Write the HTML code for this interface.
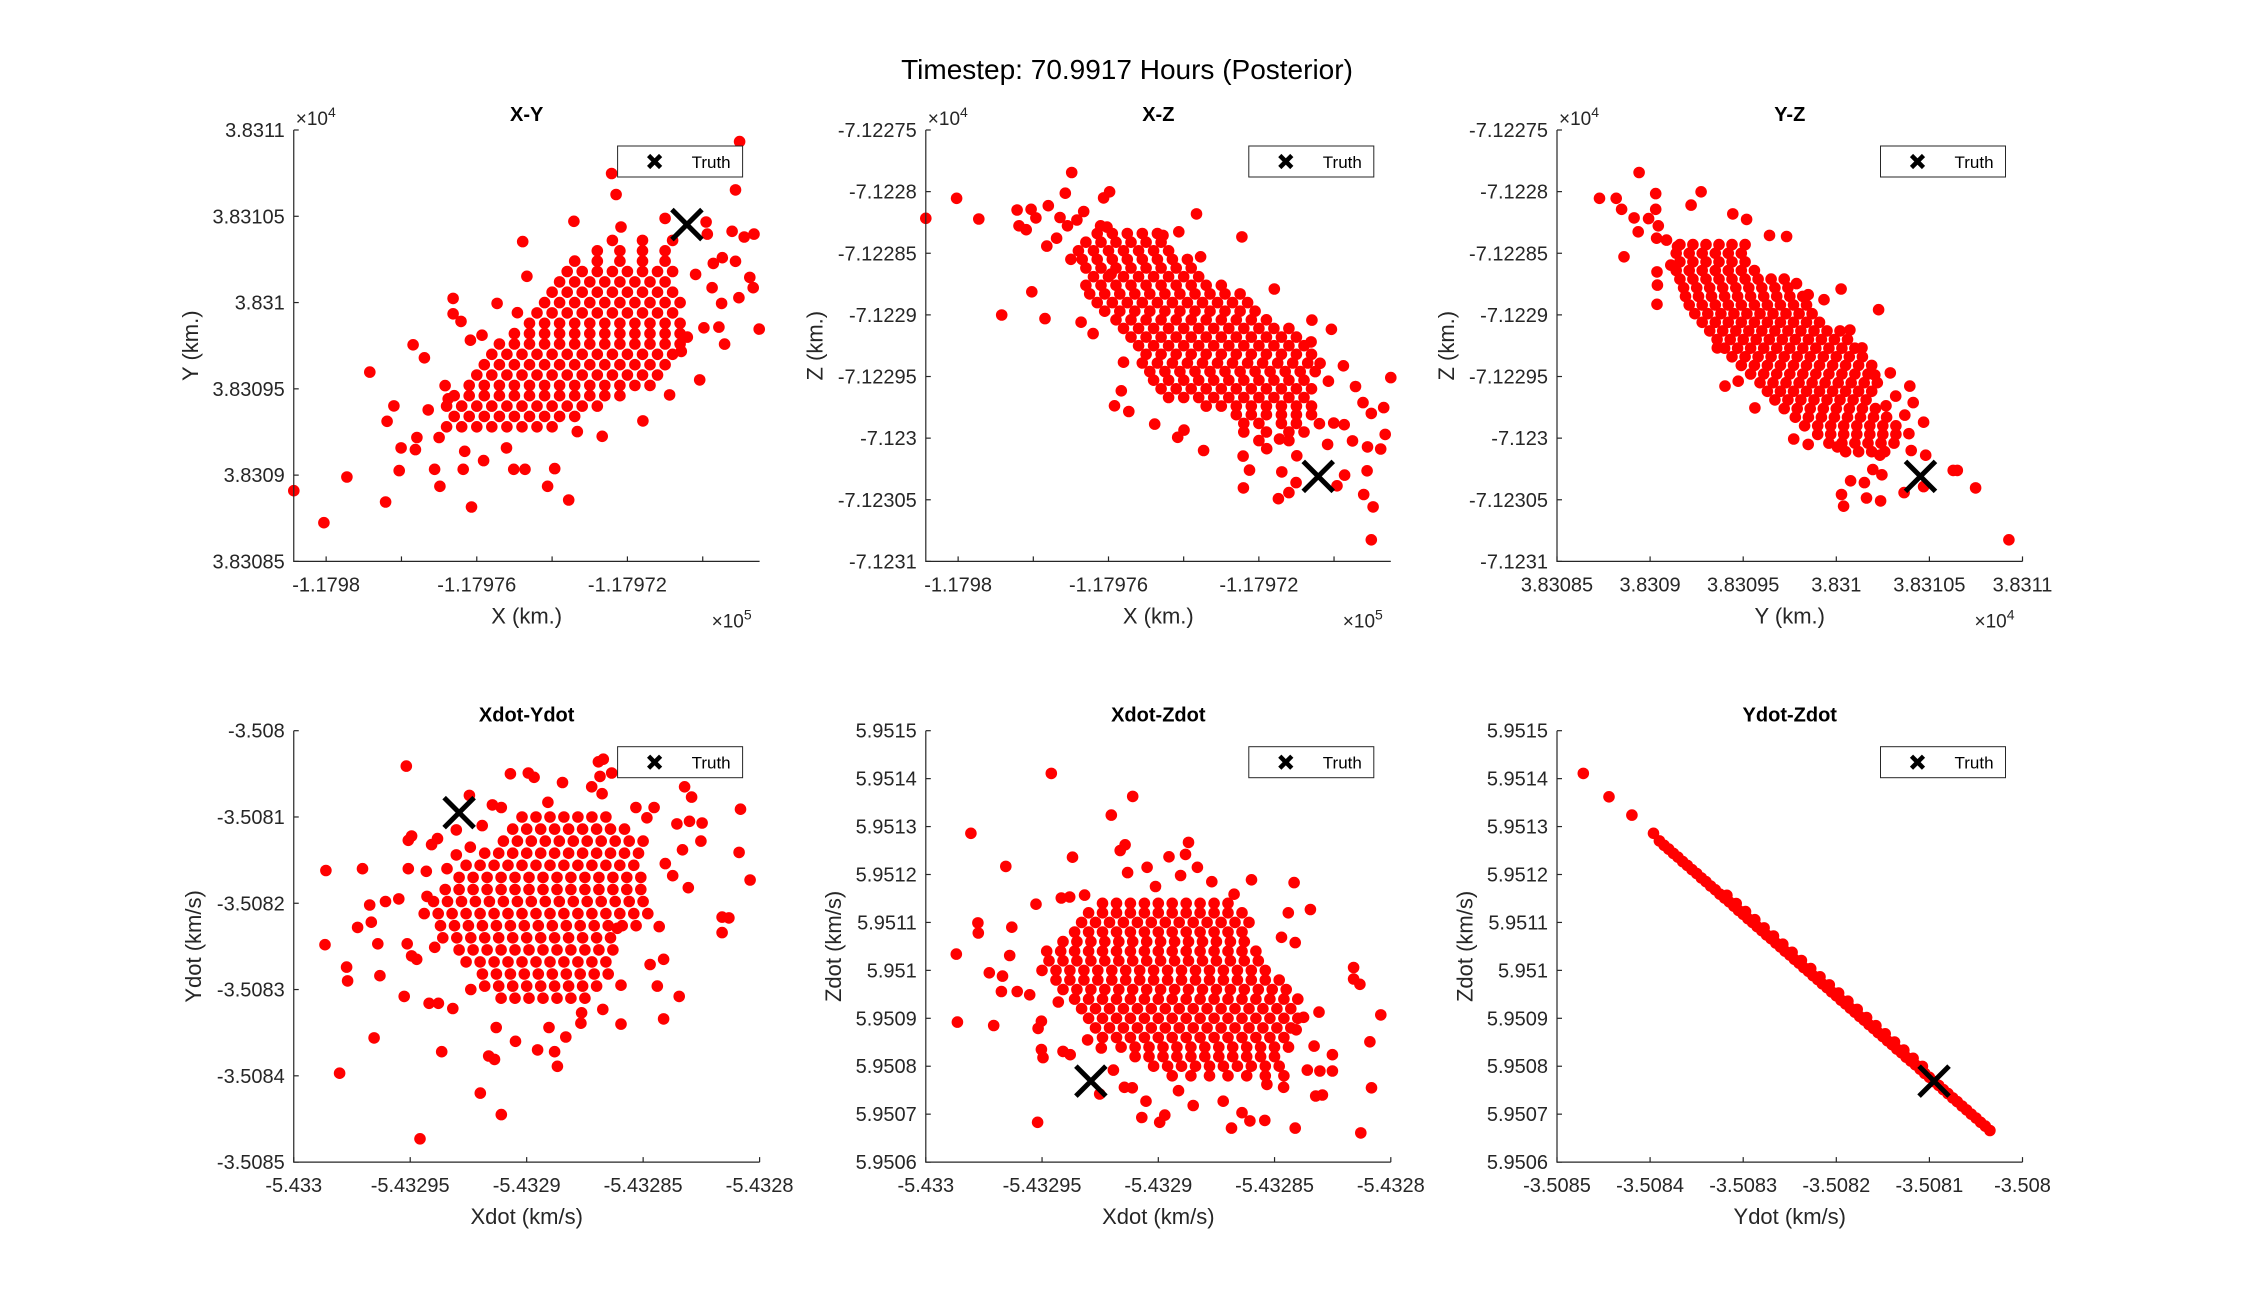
<!DOCTYPE html>
<html><head><meta charset="utf-8"><title>Timestep: 70.9917 Hours (Posterior)</title>
<style>
html,body{margin:0;padding:0;background:#fff;}
svg{display:block;font-family:"Liberation Sans",Arial,sans-serif;}
</style></head>
<body>
<svg id="fig" width="2250" height="1302" viewBox="0 0 2250 1302" xmlns="http://www.w3.org/2000/svg">
<rect x="0" y="0" width="2250" height="1302" fill="#fff"/>
<text x="1127" y="79" font-size="28" text-anchor="middle" fill="#000">Timestep: 70.9917 Hours (Posterior)</text>
</svg>
<script>
// ---------- truth ----------
const truthX = -117970.42, truthY = 38310.452, truthZ = -71230.31;
const truthXd = -5.432929, truthYd = -3.508095, truthZd = 5.950769;

// ---------- tick arrays ----------
const posXTicks = [-117980,-117978,-117976,-117974,-117972,-117970];
const posXTickLabels = ['-1.1798','','-1.17976','','-1.17972',''];
const posYTicks = [38308.5,38309,38309.5,38310,38310.5,38311];
const posYTickLabels = ['3.83085','3.8309','3.83095','3.831','3.83105','3.8311'];
const posZTicks = [-71231,-71230.5,-71230,-71229.5,-71229,-71228.5,-71228,-71227.5];
const posZTickLabels = ['-7.1231','-7.12305','-7.123','-7.12295','-7.1229','-7.12285','-7.1228','-7.12275'];
const velXTicks = [-5.433,-5.43295,-5.4329,-5.43285,-5.4328];
const velXTickLabels = ['-5.433','-5.43295','-5.4329','-5.43285','-5.4328'];
const velYTicks = [-3.5085,-3.5084,-3.5083,-3.5082,-3.5081,-3.508];
const velYTickLabels = ['-3.5085','-3.5084','-3.5083','-3.5082','-3.5081','-3.508'];
const velZTicks = [5.9506,5.9507,5.9508,5.9509,5.951,5.9511,5.9512,5.9513,5.9514,5.9515];
const velZTickLabels = ['5.9506','5.9507','5.9508','5.9509','5.951','5.9511','5.9512','5.9513','5.9514','5.9515'];

// ---------- X-Y particles ----------
const xyOutliers = [[-117980.86,38308.910],[-117980.06,38308.724],[-117979.45,38308.989],[-117978.84,38309.597],[-117978.42,38308.844],[-117978.38,38309.312],[-117978.20,38309.401],[-117978.06,38309.026],[-117978.01,38309.158],[-117977.69,38309.755],[-117977.63,38309.148],[-117977.59,38309.218],[-117977.39,38309.680],[-117977.29,38309.378],[-117977.12,38309.034],[-117976.98,38308.935],[-117977.00,38309.218],[-117976.84,38309.519],[-117976.76,38309.442],[-117976.63,38310.024],[-117976.63,38309.935],[-117976.42,38309.891],[-117976.36,38309.034],[-117976.32,38309.138],[-117976.17,38309.782],[-117976.14,38308.815],[-117975.86,38309.811],[-117975.82,38309.084],[-117975.46,38309.995],[-117975.21,38309.158],[-117975.02,38309.034],[-117974.92,38309.941],[-117974.78,38310.353],[-117974.72,38309.034],[-117974.67,38310.152],[-117974.12,38308.935],[-117973.93,38309.038],[-117973.56,38308.856],[-117973.42,38310.471],[-117973.33,38309.252],[-117972.67,38309.225],[-117972.42,38310.748],[-117972.30,38310.626],[-117972.17,38310.438],[-117971.59,38309.314],[-117970.88,38309.465],[-117971.00,38310.488],[-117970.08,38309.552],[-117969.88,38310.397],[-117969.75,38310.086],[-117969.50,38309.995],[-117969.42,38309.759],[-117969.57,38309.858],[-117969.13,38310.653],[-117969.02,38310.933],[-117969.22,38310.413],[-117968.90,38310.380],[-117968.64,38310.397],[-117968.66,38310.086],[-117968.50,38309.846],[-117969.13,38310.239],[-117969.48,38310.260],[-117969.72,38310.227],[-117969.04,38310.028],[-117968.75,38310.146],[-117969.97,38309.854],[-117970.19,38310.163],[-117969.91,38310.467],[-117970.41,38309.800],[-117970.57,38309.717]];
const xyCoreY = [38309.28,38309.34,38309.40,38309.46,38309.52,38309.58,38309.64,38309.70,38309.76,38309.82,38309.88,38309.94,38310.00,38310.06,38310.12,38310.18,38310.24,38310.30,38310.36];
const xyCoreX = [
[-117976.8,-117976.4,-117976.0,-117975.6,-117975.2,-117974.8,-117974.4,-117974.0],
[-117976.6,-117976.2,-117975.8,-117975.4,-117975.0,-117974.6,-117974.2,-117973.8,-117973.4],
[-117976.8,-117976.4,-117976.0,-117975.6,-117975.2,-117974.8,-117974.4,-117974.0,-117973.6,-117973.2,-117972.8],
[-117976.6,-117976.2,-117975.8,-117975.4,-117975.0,-117974.6,-117974.2,-117973.8,-117973.4,-117973.0,-117972.6,-117972.2],
[-117976.2,-117975.8,-117975.4,-117975.0,-117974.6,-117974.2,-117973.8,-117973.4,-117973.0,-117972.6,-117972.2,-117971.8,-117971.4],
[-117976.0,-117975.6,-117975.2,-117974.8,-117974.4,-117974.0,-117973.6,-117973.2,-117972.8,-117972.4,-117972.0,-117971.6,-117971.2],
[-117975.8,-117975.4,-117975.0,-117974.6,-117974.2,-117973.8,-117973.4,-117973.0,-117972.6,-117972.2,-117971.8,-117971.4,-117971.0],
[-117975.6,-117975.2,-117974.8,-117974.4,-117974.0,-117973.6,-117973.2,-117972.8,-117972.4,-117972.0,-117971.6,-117971.2,-117970.8],
[-117975.4,-117975.0,-117974.6,-117974.2,-117973.8,-117973.4,-117973.0,-117972.6,-117972.2,-117971.8,-117971.4,-117971.0,-117970.6],
[-117975.0,-117974.6,-117974.2,-117973.8,-117973.4,-117973.0,-117972.6,-117972.2,-117971.8,-117971.4,-117971.0,-117970.6],
[-117974.6,-117974.2,-117973.8,-117973.4,-117973.0,-117972.6,-117972.2,-117971.8,-117971.4,-117971.0,-117970.6],
[-117974.4,-117974.0,-117973.6,-117973.2,-117972.8,-117972.4,-117972.0,-117971.6,-117971.2,-117970.8],
[-117974.2,-117973.8,-117973.4,-117973.0,-117972.6,-117972.2,-117971.8,-117971.4,-117971.0,-117970.6],
[-117974.0,-117973.6,-117973.2,-117972.8,-117972.4,-117972.0,-117971.6,-117971.2,-117970.8],
[-117973.8,-117973.4,-117973.0,-117972.6,-117972.2,-117971.8,-117971.4,-117971.0],
[-117973.6,-117973.2,-117972.8,-117972.4,-117972.0,-117971.6,-117971.2,-117970.8],
[-117973.4,-117972.8,-117972.2,-117971.6,-117971.0],
[-117972.8,-117972.2,-117971.6,-117971.0],
[-117972.4,-117971.6,-117970.8]];

// ---------- X-Z particles ----------
const xzOutliers = [[-117980.86,-71228.216],[-117980.04,-71228.054],[-117979.45,-71228.222],[-117978.84,-71229.001],[-117978.43,-71228.149],[-117978.38,-71228.277],[-117978.19,-71228.309],[-117978.06,-71228.143],[-117977.93,-71228.213],[-117978.04,-71228.813],[-117977.69,-71229.030],[-117977.64,-71228.442],[-117977.60,-71228.114],[-117977.38,-71228.378],[-117977.29,-71228.210],[-117977.15,-71228.013],[-117976.98,-71227.845],[-117977.00,-71228.549],[-117977.09,-71228.277],[-117976.84,-71228.230],[-117976.73,-71229.059],[-117976.66,-71228.161],[-117976.41,-71229.152],[-117976.13,-71228.051],[-117975.97,-71228.001],[-117976.21,-71228.277],[-117976.04,-71228.288],[-117975.93,-71228.668],[-117975.84,-71229.738],[-117975.66,-71229.616],[-117975.60,-71229.384],[-117975.46,-71229.784],[-117974.77,-71229.886],[-117974.55,-71228.355],[-117974.13,-71228.326],[-117973.66,-71228.181],[-117973.55,-71228.529],[-117974.16,-71229.993],[-117973.99,-71229.935],[-117973.47,-71230.100],[-117972.45,-71228.367],[-117972.42,-71230.146],[-117972.25,-71230.259],[-117972.41,-71230.404],[-117971.79,-71230.086],[-117971.59,-71228.790],[-117971.48,-71230.491],[-117971.39,-71230.274],[-117971.20,-71230.442],[-117971.01,-71230.361],[-117970.99,-71230.143],[-117970.59,-71229.042],[-117970.61,-71229.219],[-117970.39,-71229.883],[-117970.37,-71229.393],[-117970.07,-71229.117],[-117970.15,-71229.538],[-117970.01,-71229.877],[-117969.92,-71230.387],[-117969.72,-71230.300],[-117969.75,-71229.413],[-117969.73,-71229.891],[-117969.43,-71229.581],[-117969.23,-71229.712],[-117969.51,-71230.022],[-117969.11,-71230.071],[-117969.12,-71230.265],[-117969.01,-71229.799],[-117968.68,-71229.752],[-117968.64,-71229.970],[-117968.76,-71230.088],[-117968.49,-71229.509],[-117969.21,-71230.457],[-117968.96,-71230.558],[-117969.01,-71230.825],[-117971.45,-71230.007],[-117970.17,-71230.051]];
const xzCoreZ = [-71228.34,-71228.41,-71228.48,-71228.55,-71228.62,-71228.69,-71228.76,-71228.83,-71228.90,-71228.97,-71229.04,-71229.11,-71229.18,-71229.25,-71229.32,-71229.39,-71229.46,-71229.53,-71229.60,-71229.67,-71229.74,-71229.81,-71229.88,-71229.95,-71230.02];
const xzCoreX = [
[-117976.3,-117975.9,-117975.5,-117975.1,-117974.7],
[-117976.6,-117976.2,-117975.8,-117975.4,-117975.0,-117974.6],
[-117976.8,-117976.4,-117976.0,-117975.6,-117975.2,-117974.8,-117974.4],
[-117976.7,-117976.3,-117975.9,-117975.5,-117975.1,-117974.7,-117974.3,-117973.9],
[-117976.6,-117976.2,-117975.8,-117975.4,-117975.0,-117974.6,-117974.2,-117973.8],
[-117976.4,-117976.0,-117975.6,-117975.2,-117974.8,-117974.4,-117974.0,-117973.6],
[-117976.6,-117976.2,-117975.8,-117975.4,-117975.0,-117974.6,-117974.2,-117973.8,-117973.4,-117973.0],
[-117976.5,-117976.1,-117975.7,-117975.3,-117974.9,-117974.5,-117974.1,-117973.7,-117973.3,-117972.9,-117972.5],
[-117976.3,-117975.9,-117975.5,-117975.1,-117974.7,-117974.3,-117973.9,-117973.5,-117973.1,-117972.7,-117972.3],
[-117976.1,-117975.7,-117975.3,-117974.9,-117974.5,-117974.1,-117973.7,-117973.3,-117972.9,-117972.5,-117972.1],
[-117975.8,-117975.4,-117975.0,-117974.6,-117974.2,-117973.8,-117973.4,-117973.0,-117972.6,-117972.2,-117971.8],
[-117975.6,-117975.2,-117974.8,-117974.4,-117974.0,-117973.6,-117973.2,-117972.8,-117972.4,-117972.0,-117971.6,-117971.2],
[-117975.4,-117975.0,-117974.6,-117974.2,-117973.8,-117973.4,-117973.0,-117972.6,-117972.2,-117971.8,-117971.4,-117971.0],
[-117975.2,-117974.8,-117974.4,-117974.0,-117973.6,-117973.2,-117972.8,-117972.4,-117972.0,-117971.6,-117971.2,-117970.8],
[-117975.0,-117974.6,-117974.2,-117973.8,-117973.4,-117973.0,-117972.6,-117972.2,-117971.8,-117971.4,-117971.0,-117970.6],
[-117975.1,-117974.7,-117974.3,-117973.9,-117973.5,-117973.1,-117972.7,-117972.3,-117971.9,-117971.5,-117971.1,-117970.7],
[-117974.9,-117974.5,-117974.1,-117973.7,-117973.3,-117972.9,-117972.5,-117972.1,-117971.7,-117971.3,-117970.9,-117970.5],
[-117974.8,-117974.4,-117974.0,-117973.6,-117973.2,-117972.8,-117972.4,-117972.0,-117971.6,-117971.2,-117970.8],
[-117974.6,-117974.2,-117973.8,-117973.4,-117973.0,-117972.6,-117972.2,-117971.8,-117971.4,-117971.0,-117970.6],
[-117974.4,-117974.0,-117973.6,-117973.2,-117972.8,-117972.4,-117972.0,-117971.6,-117971.2,-117970.8],
[-117973.4,-117973.0,-117972.6,-117972.2,-117971.8,-117971.4,-117971.0,-117970.6],
[-117972.6,-117972.2,-117971.8,-117971.4,-117971.0,-117970.6],
[-117972.4,-117972.0,-117971.4,-117971.0],
[-117972.4,-117971.8,-117971.2,-117970.8],
[-117972.0,-117971.2]];

// ---------- Y-Z particles ----------
const yzOutliers = [[38308.728,-71228.054],[38308.818,-71228.054],[38308.847,-71228.143],[38308.914,-71228.213],[38308.936,-71228.326],[38308.941,-71227.845],[38308.860,-71228.529],[38308.992,-71228.219],[38309.030,-71228.016],[38309.030,-71228.143],[38309.044,-71228.277],[38309.035,-71228.378],[38309.037,-71228.651],[38309.039,-71228.758],[38309.037,-71228.914],[38309.088,-71228.393],[38309.111,-71228.596],[38309.147,-71228.445],[38309.274,-71228.001],[38309.220,-71228.109],[38309.444,-71228.181],[38309.518,-71228.225],[38309.641,-71228.355],[38309.733,-71228.364],[38310.026,-71228.790],[38310.227,-71228.958],[38309.934,-71228.877],[38309.849,-71228.836],[38309.786,-71228.746],[38309.361,-71229.268],[38309.402,-71229.578],[38309.473,-71229.538],[38309.563,-71229.755],[38309.771,-71230.007],[38309.849,-71230.051],[38310.006,-71230.071],[38310.028,-71230.457],[38310.039,-71230.552],[38310.077,-71230.346],[38310.151,-71230.361],[38310.162,-71230.486],[38310.238,-71230.509],[38310.196,-71230.254],[38310.245,-71230.297],[38310.234,-71230.138],[38310.364,-71230.442],[38310.402,-71230.100],[38310.480,-71230.138],[38310.469,-71230.393],[38310.628,-71230.262],[38310.650,-71230.262],[38310.748,-71230.404],[38310.927,-71230.825],[38310.395,-71229.578],[38310.413,-71229.712],[38310.319,-71229.659],[38310.267,-71229.738],[38310.469,-71229.871],[38310.368,-71229.813],[38310.390,-71229.964],[38310.290,-71229.471],[38310.207,-71229.488],[38310.138,-71229.268],[38310.073,-71229.123]];
const yzCoreZ = [-71228.43,-71228.50,-71228.57,-71228.64,-71228.71,-71228.78,-71228.85,-71228.92,-71228.99,-71229.06,-71229.13,-71229.20,-71229.27,-71229.34,-71229.41,-71229.48,-71229.55,-71229.62,-71229.69,-71229.76,-71229.83,-71229.90,-71229.97,-71230.04,-71230.11];
const yzCoreY = [
[38309.16,38309.23,38309.30,38309.37,38309.44,38309.51],
[38309.14,38309.21,38309.28,38309.35,38309.42,38309.49],
[38309.16,38309.23,38309.30,38309.37,38309.44,38309.51],
[38309.14,38309.21,38309.28,38309.35,38309.42,38309.49,38309.56],
[38309.16,38309.23,38309.30,38309.37,38309.44,38309.51,38309.58,38309.65,38309.72],
[38309.18,38309.25,38309.32,38309.39,38309.46,38309.53,38309.60,38309.67,38309.74],
[38309.19,38309.26,38309.33,38309.40,38309.47,38309.54,38309.61,38309.68,38309.75,38309.82],
[38309.21,38309.28,38309.35,38309.42,38309.49,38309.56,38309.63,38309.70,38309.77,38309.84],
[38309.24,38309.31,38309.38,38309.45,38309.52,38309.59,38309.66,38309.73,38309.80,38309.87],
[38309.28,38309.35,38309.42,38309.49,38309.56,38309.63,38309.70,38309.77,38309.84,38309.91],
[38309.32,38309.39,38309.46,38309.53,38309.60,38309.67,38309.74,38309.81,38309.88,38309.95,38310.02],
[38309.36,38309.43,38309.50,38309.57,38309.64,38309.71,38309.78,38309.85,38309.92,38309.99,38310.06],
[38309.40,38309.47,38309.54,38309.61,38309.68,38309.75,38309.82,38309.89,38309.96,38310.03,38310.10],
[38309.44,38309.51,38309.58,38309.65,38309.72,38309.79,38309.86,38309.93,38310.00,38310.07,38310.14],
[38309.49,38309.56,38309.63,38309.70,38309.77,38309.84,38309.91,38309.98,38310.05,38310.12,38310.19],
[38309.54,38309.61,38309.68,38309.75,38309.82,38309.89,38309.96,38310.03,38310.10,38310.17],
[38309.59,38309.66,38309.73,38309.80,38309.87,38309.94,38310.01,38310.08,38310.15,38310.22],
[38309.63,38309.70,38309.77,38309.84,38309.91,38309.98,38310.05,38310.12,38310.19],
[38309.67,38309.74,38309.81,38309.88,38309.95,38310.02,38310.09,38310.16],
[38309.72,38309.79,38309.86,38309.93,38310.00,38310.07,38310.14,38310.21],
[38309.78,38309.85,38309.92,38309.99,38310.06,38310.13,38310.20,38310.27],
[38309.83,38309.90,38309.97,38310.04,38310.11,38310.18,38310.25,38310.32],
[38309.90,38309.97,38310.04,38310.11,38310.18,38310.25,38310.32],
[38309.96,38310.03,38310.10,38310.17,38310.24,38310.31],
[38310.05,38310.12,38310.19,38310.26]];

// ---------- Xdot-Ydot particles ----------
const xdydOutliers = [[-5.4329862,-3.508162],[-5.4329866,-3.508248],[-5.4329803,-3.508397],[-5.4329773,-3.508274],[-5.4329769,-3.508290],[-5.4329726,-3.508228],[-5.4329705,-3.508160],[-5.4329674,-3.508202],[-5.4329667,-3.508222],[-5.4329655,-3.508356],[-5.4329639,-3.508247],[-5.4329630,-3.508284],[-5.4329606,-3.508198],[-5.4329549,-3.508195],[-5.4329526,-3.508308],[-5.4329517,-3.508041],[-5.4329508,-3.508127],[-5.4329494,-3.508122],[-5.4329508,-3.508160],[-5.4329513,-3.508247],[-5.4329494,-3.508261],[-5.4329472,-3.508265],[-5.4329458,-3.508473],[-5.4329431,-3.508163],[-5.4329428,-3.508192],[-5.4329408,-3.508132],[-5.4329383,-3.508125],[-5.4329395,-3.508251],[-5.4329419,-3.508316],[-5.4329379,-3.508316],[-5.4329365,-3.508372],[-5.4329342,-3.508160],[-5.4329317,-3.508322],[-5.4329302,-3.508144],[-5.4329302,-3.508115],[-5.4329246,-3.508075],[-5.4329242,-3.508135],[-5.4329240,-3.508300],[-5.4329199,-3.508420],[-5.4329191,-3.508110],[-5.4329163,-3.508377],[-5.4329138,-3.508381],[-5.4329131,-3.508344],[-5.4329109,-3.508445],[-5.4329147,-3.508086],[-5.4329109,-3.508089],[-5.4329070,-3.508050],[-5.4329048,-3.508360],[-5.4328993,-3.508049],[-5.4328968,-3.508054],[-5.4328953,-3.508370],[-5.4328909,-3.508083],[-5.4328904,-3.508344],[-5.4328880,-3.508372],[-5.4328868,-3.508389],[-5.4328846,-3.508060],[-5.4328832,-3.508355],[-5.4328767,-3.508339],[-5.4328764,-3.508327],[-5.4328721,-3.508065],[-5.4328692,-3.508036],[-5.4328671,-3.508033],[-5.4328685,-3.508053],[-5.4328676,-3.508073],[-5.4328673,-3.508323],[-5.4328635,-3.508049],[-5.4328595,-3.508340],[-5.4328595,-3.508295],[-5.4328611,-3.508229],[-5.4328531,-3.508089],[-5.4328484,-3.508101],[-5.4328453,-3.508089],[-5.4328431,-3.508227],[-5.4328470,-3.508271],[-5.4328439,-3.508296],[-5.4328412,-3.508265],[-5.4328412,-3.508334],[-5.4328405,-3.508154],[-5.4328373,-3.508168],[-5.4328355,-3.508108],[-5.4328345,-3.508308],[-5.4328331,-3.508138],[-5.4328322,-3.508065],[-5.4328306,-3.508182],[-5.4328301,-3.508105],[-5.4328292,-3.508077],[-5.4328252,-3.508128],[-5.4328247,-3.508107],[-5.4328161,-3.508216],[-5.4328132,-3.508217],[-5.4328161,-3.508234],[-5.4328088,-3.508141],[-5.4328082,-3.508091],[-5.4328041,-3.508173]];
const xdydCoreYd = [-3.508100,-3.508114,-3.508128,-3.508142,-3.508156,-3.508170,-3.508184,-3.508198,-3.508212,-3.508226,-3.508240,-3.508254,-3.508268,-3.508282,-3.508296,-3.508310];
const xdydCoreXd = [
[-5.432902,-5.432896,-5.432890,-5.432884,-5.432878,-5.432872,-5.432866],
[-5.432906,-5.432900,-5.432894,-5.432888,-5.432882,-5.432876,-5.432870,-5.432864,-5.432858],
[-5.432910,-5.432904,-5.432898,-5.432892,-5.432886,-5.432880,-5.432874,-5.432868,-5.432862,-5.432856,-5.432850],
[-5.432918,-5.432912,-5.432906,-5.432900,-5.432894,-5.432888,-5.432882,-5.432876,-5.432870,-5.432864,-5.432858,-5.432852],
[-5.432926,-5.432920,-5.432914,-5.432908,-5.432902,-5.432896,-5.432890,-5.432884,-5.432878,-5.432872,-5.432866,-5.432860,-5.432854],
[-5.432929,-5.432923,-5.432917,-5.432911,-5.432905,-5.432899,-5.432893,-5.432887,-5.432881,-5.432875,-5.432869,-5.432863,-5.432857,-5.432851],
[-5.432935,-5.432929,-5.432923,-5.432917,-5.432911,-5.432905,-5.432899,-5.432893,-5.432887,-5.432881,-5.432875,-5.432869,-5.432863,-5.432857,-5.432851],
[-5.432940,-5.432934,-5.432928,-5.432922,-5.432916,-5.432910,-5.432904,-5.432898,-5.432892,-5.432886,-5.432880,-5.432874,-5.432868,-5.432862,-5.432856,-5.432850],
[-5.432944,-5.432938,-5.432932,-5.432926,-5.432920,-5.432914,-5.432908,-5.432902,-5.432896,-5.432890,-5.432884,-5.432878,-5.432872,-5.432866,-5.432860,-5.432854,-5.432848],
[-5.432937,-5.432931,-5.432925,-5.432919,-5.432913,-5.432907,-5.432901,-5.432895,-5.432889,-5.432883,-5.432877,-5.432871,-5.432865,-5.432859,-5.432853],
[-5.432936,-5.432930,-5.432924,-5.432918,-5.432912,-5.432906,-5.432900,-5.432894,-5.432888,-5.432882,-5.432876,-5.432870,-5.432864],
[-5.432929,-5.432923,-5.432917,-5.432911,-5.432905,-5.432899,-5.432893,-5.432887,-5.432881,-5.432875,-5.432869,-5.432863],
[-5.432926,-5.432920,-5.432914,-5.432908,-5.432902,-5.432896,-5.432890,-5.432884,-5.432878,-5.432872,-5.432866],
[-5.432919,-5.432913,-5.432907,-5.432901,-5.432895,-5.432889,-5.432883,-5.432877,-5.432871,-5.432865],
[-5.432918,-5.432912,-5.432906,-5.432900,-5.432894,-5.432888,-5.432882,-5.432876,-5.432870],
[-5.432911,-5.432905,-5.432899,-5.432893,-5.432887,-5.432881,-5.432875]];

// ---------- Xdot-Zdot particles ----------
const xdzdOutliers = [[-5.4329869,5.951034],[-5.4329864,5.950892],[-5.4329806,5.951286],[-5.4329776,5.951099],[-5.4329774,5.951078],[-5.4329727,5.950995],[-5.4329708,5.950885],[-5.4329675,5.950956],[-5.4329670,5.950988],[-5.4329656,5.951217],[-5.4329639,5.951031],[-5.4329630,5.951090],[-5.4329607,5.950956],[-5.4329553,5.950949],[-5.4329526,5.951138],[-5.4329519,5.950683],[-5.4329517,5.950879],[-5.4329503,5.950894],[-5.4329503,5.950835],[-5.4329496,5.950818],[-5.4329460,5.951411],[-5.4329430,5.950934],[-5.4329417,5.951151],[-5.4329381,5.951153],[-5.4329410,5.950831],[-5.4329379,5.950824],[-5.4329369,5.951236],[-5.4329317,5.951157],[-5.4329304,5.950855],[-5.4329252,5.950742],[-5.4329245,5.950838],[-5.4329202,5.951324],[-5.4329193,5.950792],[-5.4329164,5.951250],[-5.4329143,5.951262],[-5.4329132,5.951204],[-5.4329146,5.950756],[-5.4329112,5.950755],[-5.4329110,5.951363],[-5.4329071,5.950693],[-5.4329053,5.950727],[-5.4329048,5.951215],[-5.4329012,5.951175],[-5.4328994,5.950683],[-5.4328972,5.950698],[-5.4328954,5.951237],[-5.4328913,5.950749],[-5.4328904,5.951198],[-5.4328883,5.951242],[-5.4328870,5.951267],[-5.4328850,5.950718],[-5.4328832,5.951215],[-5.4328770,5.951185],[-5.4328721,5.950727],[-5.4328685,5.950671],[-5.4328674,5.951159],[-5.4328640,5.950703],[-5.4328606,5.950686],[-5.4328599,5.951189],[-5.4328542,5.950687],[-5.4328533,5.950762],[-5.4328470,5.951069],[-5.4328461,5.950756],[-5.4328441,5.951120],[-5.4328416,5.951183],[-5.4328411,5.951058],[-5.4328411,5.950671],[-5.4328407,5.950876],[-5.4328375,5.950902],[-5.4328346,5.951127],[-5.4328330,5.950842],[-5.4328323,5.950738],[-5.4328309,5.950913],[-5.4328305,5.950790],[-5.4328294,5.950740],[-5.4328251,5.950824],[-5.4328251,5.950790],[-5.4328160,5.951006],[-5.4328160,5.950982],[-5.4328133,5.950971],[-5.4328129,5.950661],[-5.4328090,5.950851],[-5.4328083,5.950755],[-5.4328043,5.950907],[-5.4328359,5.950792]];
const xdzdCoreZd = [5.951140,5.951120,5.951100,5.951080,5.951060,5.951040,5.951020,5.951000,5.950980,5.950960,5.950940,5.950920,5.950900,5.950880,5.950860,5.950840,5.950820,5.950800,5.950780];
const xdzdCoreXd = [
[-5.432924,-5.432918,-5.432912,-5.432906,-5.432900,-5.432894,-5.432888,-5.432882,-5.432876,-5.432870],
[-5.432930,-5.432924,-5.432918,-5.432912,-5.432906,-5.432900,-5.432894,-5.432888,-5.432882,-5.432876,-5.432870,-5.432864],
[-5.432933,-5.432927,-5.432921,-5.432915,-5.432909,-5.432903,-5.432897,-5.432891,-5.432885,-5.432879,-5.432873,-5.432867,-5.432861],
[-5.432936,-5.432930,-5.432924,-5.432918,-5.432912,-5.432906,-5.432900,-5.432894,-5.432888,-5.432882,-5.432876,-5.432870,-5.432864],
[-5.432941,-5.432935,-5.432929,-5.432923,-5.432917,-5.432911,-5.432905,-5.432899,-5.432893,-5.432887,-5.432881,-5.432875,-5.432869,-5.432863],
[-5.432948,-5.432942,-5.432936,-5.432930,-5.432924,-5.432918,-5.432912,-5.432906,-5.432900,-5.432894,-5.432888,-5.432882,-5.432876,-5.432870,-5.432864,-5.432858],
[-5.432947,-5.432941,-5.432935,-5.432929,-5.432923,-5.432917,-5.432911,-5.432905,-5.432899,-5.432893,-5.432887,-5.432881,-5.432875,-5.432869,-5.432863,-5.432857],
[-5.432950,-5.432944,-5.432938,-5.432932,-5.432926,-5.432920,-5.432914,-5.432908,-5.432902,-5.432896,-5.432890,-5.432884,-5.432878,-5.432872,-5.432866,-5.432860,-5.432854],
[-5.432944,-5.432938,-5.432932,-5.432926,-5.432920,-5.432914,-5.432908,-5.432902,-5.432896,-5.432890,-5.432884,-5.432878,-5.432872,-5.432866,-5.432860,-5.432854,-5.432848],
[-5.432941,-5.432935,-5.432929,-5.432923,-5.432917,-5.432911,-5.432905,-5.432899,-5.432893,-5.432887,-5.432881,-5.432875,-5.432869,-5.432863,-5.432857,-5.432851,-5.432845],
[-5.432936,-5.432930,-5.432924,-5.432918,-5.432912,-5.432906,-5.432900,-5.432894,-5.432888,-5.432882,-5.432876,-5.432870,-5.432864,-5.432858,-5.432852,-5.432846,-5.432840],
[-5.432933,-5.432927,-5.432921,-5.432915,-5.432909,-5.432903,-5.432897,-5.432891,-5.432885,-5.432879,-5.432873,-5.432867,-5.432861,-5.432855,-5.432849,-5.432843],
[-5.432930,-5.432924,-5.432918,-5.432912,-5.432906,-5.432900,-5.432894,-5.432888,-5.432882,-5.432876,-5.432870,-5.432864,-5.432858,-5.432852,-5.432846,-5.432840],
[-5.432927,-5.432921,-5.432915,-5.432909,-5.432903,-5.432897,-5.432891,-5.432885,-5.432879,-5.432873,-5.432867,-5.432861,-5.432855,-5.432849,-5.432843],
[-5.432924,-5.432918,-5.432912,-5.432906,-5.432900,-5.432894,-5.432888,-5.432882,-5.432876,-5.432870,-5.432864,-5.432858,-5.432852,-5.432846],
[-5.432916,-5.432910,-5.432904,-5.432898,-5.432892,-5.432886,-5.432880,-5.432874,-5.432868,-5.432862,-5.432856,-5.432850,-5.432844],
[-5.432910,-5.432904,-5.432898,-5.432892,-5.432886,-5.432880,-5.432874,-5.432868,-5.432862,-5.432856,-5.432850],
[-5.432902,-5.432896,-5.432890,-5.432884,-5.432878,-5.432872,-5.432866,-5.432860,-5.432854,-5.432848],
[-5.432894,-5.432886,-5.432878,-5.432870,-5.432862,-5.432854,-5.432846]];

// ---------- Ydot-Zdot particles ----------
const ydzdPoints = [[-3.5084718,5.951411],[-3.5084441,5.951362],[-3.5084196,5.951324],[-3.5083963,5.951286],
[-3.508390,5.951270],[-3.508385,5.951261],[-3.508380,5.951253],[-3.508375,5.951244],[-3.508370,5.951236],[-3.508365,5.951227],[-3.508360,5.951219],[-3.508355,5.951210],[-3.508350,5.951202],[-3.508345,5.951193],[-3.508340,5.951185],[-3.508335,5.951176],[-3.508330,5.951168],[-3.508325,5.951159],[-3.508320,5.951151],[-3.508315,5.951143],[-3.508310,5.951134],[-3.508305,5.951125],[-3.508300,5.951117],[-3.508295,5.951108],[-3.508290,5.951100],[-3.508285,5.951091],[-3.508280,5.951083],[-3.508275,5.951074],[-3.508270,5.951066],[-3.508265,5.951057],[-3.508260,5.951049],[-3.508255,5.951040],[-3.508250,5.951032],[-3.508245,5.951023],[-3.508240,5.951015],[-3.508235,5.951006],[-3.508230,5.950998],[-3.508225,5.950989],[-3.508220,5.950981],[-3.508215,5.950972],[-3.508210,5.950964],[-3.508205,5.950955],[-3.508200,5.950947],[-3.508195,5.950938],[-3.508190,5.950930],[-3.508185,5.950921],[-3.508180,5.950913],[-3.508175,5.950904],[-3.508170,5.950896],[-3.508165,5.950887],[-3.508160,5.950879],[-3.508155,5.950870],[-3.508150,5.950862],[-3.508145,5.950853],[-3.508140,5.950845],[-3.508135,5.950836],[-3.508130,5.950828],[-3.508125,5.950819],[-3.508120,5.950811],[-3.508115,5.950803],[-3.508110,5.950794],[-3.508105,5.950785],[-3.508100,5.950777],[-3.508095,5.950768],[-3.508090,5.950760],[-3.508085,5.950751],[-3.508080,5.950743],[-3.508075,5.950734],[-3.508070,5.950726],[-3.508065,5.950717],[-3.508060,5.950709],[-3.508055,5.950700],[-3.508050,5.950692],[-3.508045,5.950683],[-3.508040,5.950675],[-3.508035,5.950666],
[-3.5083175,5.9511566],[-3.5083075,5.9511396],[-3.5082975,5.9511226],[-3.5082875,5.9511056],[-3.5082775,5.9510886],[-3.5082675,5.9510716],[-3.5082575,5.9510546],[-3.5082475,5.9510376],[-3.5082375,5.9510206],[-3.5082275,5.9510036],[-3.5082175,5.9509866],[-3.5082075,5.9509696],[-3.5081975,5.9509526],[-3.5081875,5.9509356],[-3.5081775,5.9509186],[-3.5081675,5.9509016],[-3.5081575,5.9508846],[-3.5081475,5.9508676],[-3.5081375,5.9508506],[-3.5081275,5.9508336],[-3.5081175,5.9508166],[-3.5081075,5.9507996]];

// ---------- rendering ----------
const NS = 'http://www.w3.org/2000/svg';
const svg = document.getElementById('fig');
const AX = '#262626';

function mk(tag, attrs, parent){
  const e = document.createElementNS(NS, tag);
  for (const k in attrs) e.setAttribute(k, attrs[k]);
  (parent || svg).appendChild(e);
  return e;
}
function expand(outliers, rowVals, rowPts, rowIsY){
  const pts = outliers.slice();
  rowVals.forEach((v, i) => rowPts[i].forEach(u => pts.push(rowIsY ? [u, v] : [u, v])));
  return pts;
}

const panels = [
  {key:'x-y', L:293.75, R:759.6, T:130, B:561.4, xDom:[-117980.86,-117968.49], yDom:[38308.5,38311.0],
   xt:posXTicks, xl:posXTickLabels, yt:posYTicks, yl:posYTickLabels, title:'X-Y', xTitle:'X (km.)', yTitle:'Y (km.)', yTitleX:190.4, xExp:'5', yExp:'4',
   pts: expand(xyOutliers, xyCoreY, xyCoreX), truth:[truthX, truthY]},
  {key:'x-z', L:925.8, R:1390.8, T:130, B:561.4, xDom:[-117980.86,-117968.49], yDom:[-71231.0,-71227.5],
   xt:posXTicks, xl:posXTickLabels, yt:posZTicks, yl:posZTickLabels, title:'X-Z', xTitle:'X (km.)', yTitle:'Z (km.)', yTitleX:815, xExp:'5', yExp:'4',
   pts: expand(xzOutliers, xzCoreZ, xzCoreX), truth:[truthX, truthZ]},
  {key:'y-z', L:1557, R:2022.5, T:130, B:561.4, xDom:[38308.5,38311.0], yDom:[-71231.0,-71227.5],
   xt:posYTicks, xl:posYTickLabels, yt:posZTicks, yl:posZTickLabels, title:'Y-Z', xTitle:'Y (km.)', yTitle:'Z (km.)', yTitleX:1446.7, xExp:'4', yExp:'4',
   pts: expand(yzOutliers, yzCoreZ, yzCoreY), truth:[truthY, truthZ]},
  {key:'xdot-ydot', L:293.75, R:759.6, T:730.7, B:1162.1, xDom:[-5.4330,-5.4328], yDom:[-3.5085,-3.5080],
   xt:velXTicks, xl:velXTickLabels, yt:velYTicks, yl:velYTickLabels, title:'Xdot-Ydot', xTitle:'Xdot (km/s)', yTitle:'Ydot (km/s)', yTitleX:193.75,
   pts: expand(xdydOutliers, xdydCoreYd, xdydCoreXd), truth:[truthXd, truthYd]},
  {key:'xdot-zdot', L:925.8, R:1390.8, T:730.7, B:1162.1, xDom:[-5.4330,-5.4328], yDom:[5.9506,5.9515],
   xt:velXTicks, xl:velXTickLabels, yt:velZTicks, yl:velZTickLabels, title:'Xdot-Zdot', xTitle:'Xdot (km/s)', yTitle:'Zdot (km/s)', yTitleX:833.75,
   pts: expand(xdzdOutliers, xdzdCoreZd, xdzdCoreXd), truth:[truthXd, truthZd]},
  {key:'ydot-zdot', L:1557, R:2022.5, T:730.7, B:1162.1, xDom:[-3.5085,-3.5080], yDom:[5.9506,5.9515],
   xt:velYTicks, xl:velYTickLabels, yt:velZTicks, yl:velZTickLabels, title:'Ydot-Zdot', xTitle:'Ydot (km/s)', yTitle:'Zdot (km/s)', yTitleX:1465,
   pts: ydzdPoints.slice(), truth:[truthYd, truthZd]}
];

panels.forEach(p => {
  const sx = v => p.L + (v - p.xDom[0]) / (p.xDom[1] - p.xDom[0]) * (p.R - p.L);
  const sy = v => p.B - (v - p.yDom[0]) / (p.yDom[1] - p.yDom[0]) * (p.B - p.T);
  const g = mk('g', {});
  
  

  // particles
  const clip = mk('clipPath', {id: 'clip-' + p.key}, g);
  mk('rect', {x: p.L - 6, y: p.T - 6, width: p.R - p.L + 12, height: p.B - p.T + 12}, clip);
  const dots = mk('g', {'clip-path': 'url(#clip-' + p.key + ')', fill: '#ff0000'}, g);
  
  
  p.pts.forEach(pt => {
    const c = mk('circle', {cx: sx(pt[0]).toFixed(1), cy: sy(pt[1]).toFixed(1), r: 5.8}, dots);
    
    
  });

  // truth marker
  const tx = sx(p.truth[0]), ty = sy(p.truth[1]);
  const tm = mk('path', {d: `M${tx-15},${ty-15}L${tx+15},${ty+15}M${tx-15},${ty+15}L${tx+15},${ty-15}`, stroke: '#000', 'stroke-width': 5, fill: 'none'}, g);
  
  

  // axes
  const ax = mk('path', {d: `M${p.L},${p.T}V${p.B}H${p.R}`, stroke: AX, 'stroke-width': 1.2, fill: 'none'}, g);
  
  

  p.xt.forEach((v, i) => {
    const x = sx(v);
    const t = mk('line', {x1: x, x2: x, y1: p.B, y2: p.B - 5, stroke: AX, 'stroke-width': 1.2}, g);
    
    
    if (p.xl[i]) {
      const lb = mk('text', {x: x, y: p.B + 30, 'font-size': 20, 'text-anchor': 'middle', fill: AX}, g);
      lb.textContent = p.xl[i];
      
      
    }
  });
  p.yt.forEach((v, i) => {
    const y = sy(v);
    const t = mk('line', {x1: p.L, x2: p.L + 5, y1: y, y2: y, stroke: AX, 'stroke-width': 1.2}, g);
    
    
    const lb = mk('text', {x: p.L - 9, y: y + 7, 'font-size': 20, 'text-anchor': 'end', fill: AX}, g);
    lb.textContent = p.yl[i];
    
    
  });

  // titles
  const tt = mk('text', {x: (p.L + p.R) / 2, y: p.T - 9, 'font-size': 20, 'font-weight': 'bold', 'text-anchor': 'middle', fill: '#000'}, g);
  tt.textContent = p.title;
  
  
  const xt = mk('text', {x: (p.L + p.R) / 2, y: p.B + 62, 'font-size': 22, 'text-anchor': 'middle', fill: AX}, g);
  xt.textContent = p.xTitle;
  
  
  const ym = (p.T + p.B) / 2;
  const yt = mk('text', {x: p.yTitleX, y: ym, 'font-size': 22, 'text-anchor': 'middle', 'dominant-baseline': 'central', fill: AX, transform: `rotate(-90 ${p.yTitleX} ${ym})`}, g);
  yt.textContent = p.yTitle;
  
  

  // exponents
  if (p.yExp) {
    const e = mk('text', {x: p.L + 2, y: p.T - 5, 'font-size': 19, fill: AX}, g);
    e.innerHTML = '×10<tspan dy="-8" font-size="14">' + p.yExp + '</tspan>';
    
    
  }
  if (p.xExp) {
    const e = mk('text', {x: p.R - 48, y: p.B + 66, 'font-size': 19, fill: AX}, g);
    e.innerHTML = '×10<tspan dy="-8" font-size="14">' + p.xExp + '</tspan>';
    
    
  }

  // legend
  const lg = mk('g', {}, g);
  
  
  mk('rect', {x: p.R - 142, y: p.T + 16, width: 125, height: 31, fill: '#fff', stroke: AX, 'stroke-width': 1}, lg);
  const mx = p.R - 105, my = p.T + 31.5;
  const lm = mk('path', {d: `M${mx-6},${my-6}L${mx+6},${my+6}M${mx-6},${my+6}L${mx+6},${my-6}`, stroke: '#000', 'stroke-width': 4.5, fill: 'none'}, lg);
  
  
  const lt = mk('text', {x: p.R - 68, y: p.T + 38, 'font-size': 17, fill: '#000'}, lg);
  lt.textContent = 'Truth';
  
  
});
</script>
</body></html>
